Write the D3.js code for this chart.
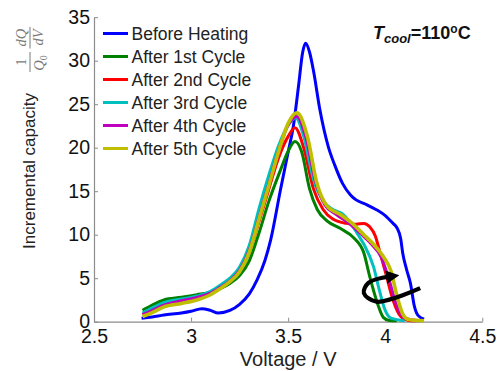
<!DOCTYPE html>
<html>
<head>
<meta charset="utf-8">
<script src="https://cdn.jsdelivr.net/npm/d3@7"></script>
<style>
 body { margin:0; background:#fff; }
 text { font-family: "Liberation Sans", Arial, sans-serif; }
</style>
</head>
<body>
<div id="chart"></div>
<script>
var beforeHeating = [[2.745,0.4],[2.8,0.55],[2.86,0.77],[2.95,1.0],[3.0,1.2],[3.055,1.5],[3.1,1.3],[3.14,1.0],[3.2,1.3],[3.25,2.0],[3.3,3.2],[3.34,4.8],[3.38,7.0],[3.41,9.4],[3.46,15.1],[3.5,19.5],[3.527,22.5],[3.553,27],[3.575,31],[3.59,32],[3.61,31],[3.63,28.9],[3.664,24.3],[3.707,20.1],[3.74,18],[3.78,15.9],[3.82,14.6],[3.85,14.0],[3.9,13.5],[3.96,12.8],[4.0,12.2],[4.04,11.3],[4.06,10.8],[4.08,9.5],[4.09,7.9],[4.11,6],[4.13,4.4],[4.15,1.8],[4.17,0.7],[4.2,0.3]];
var cycle1 = [[2.75,1.3],[2.8,1.9],[2.86,2.5],[2.95,2.8],[3.03,3.1],[3.1,3.4],[3.15,3.8],[3.2,4.4],[3.25,5.3],[3.3,7.0],[3.35,10.2],[3.4,13.8],[3.46,17.4],[3.5,19.6],[3.535,20.7],[3.57,19.5],[3.61,15.3],[3.65,12.9],[3.7,11.6],[3.77,10.7],[3.84,9.6],[3.89,7.9],[3.92,5.2],[3.96,2.1],[3.99,0.5],[4.02,0.15],[4.06,0.1]];
var cycle2 = [[2.75,0.85],[2.8,1.4],[2.86,2.0],[2.95,2.45],[3.03,2.85],[3.1,3.3],[3.15,3.95],[3.2,4.7],[3.25,5.8],[3.3,8.0],[3.35,11.5],[3.4,15.2],[3.45,18.8],[3.5,21.3],[3.535,22.3],[3.58,20],[3.63,15.3],[3.68,12.9],[3.73,11.8],[3.8,11.3],[3.85,11.2],[3.89,11.3],[3.92,10.9],[3.95,9.8],[3.97,8.2],[4.0,5.8],[4.04,2.5],[4.08,0.6],[4.12,0.15],[4.16,0.1]];
var cycle3 = [[2.75,1.0],[2.8,1.6],[2.86,2.2],[2.95,2.6],[3.03,2.95],[3.1,3.5],[3.15,4.2],[3.2,5.0],[3.25,6.3],[3.3,8.8],[3.35,13],[3.4,16.8],[3.45,20.2],[3.5,22.6],[3.54,23.4],[3.58,21.3],[3.63,16.4],[3.68,13.9],[3.73,12.9],[3.78,12.4],[3.82,11.4],[3.86,10.0],[3.89,8.9],[3.94,6.3],[3.97,3.6],[4.0,1.3],[4.03,0.4],[4.1,0.1]];
var cycle4 = [[2.75,0.8],[2.8,1.3],[2.86,1.9],[2.95,2.4],[3.03,2.8],[3.1,3.3],[3.15,3.95],[3.2,4.7],[3.25,5.9],[3.3,8.2],[3.35,12.0],[3.4,15.8],[3.45,19.6],[3.5,22.6],[3.545,23.6],[3.59,21.3],[3.64,16.2],[3.69,13.4],[3.75,12.3],[3.82,11.2],[3.88,10.0],[3.93,8.9],[3.98,7.4],[4.02,4.8],[4.06,1.8],[4.1,0.4],[4.18,0.1]];
var cycle5 = [[2.75,0.6],[2.8,1.05],[2.86,1.7],[2.95,2.1],[3.03,2.5],[3.1,3.1],[3.15,3.8],[3.2,4.6],[3.25,5.75],[3.3,8.0],[3.35,11.8],[3.4,15.6],[3.45,19.5],[3.5,22.8],[3.545,24],[3.6,21.2],[3.647,16.0],[3.7,13.3],[3.77,12.3],[3.83,11.3],[3.89,10.0],[3.94,8.9],[3.99,7.5],[4.03,5.8],[4.06,3.0],[4.09,0.9],[4.12,0.25],[4.2,0.1]];

var seriesNames = ["Before Heating","After 1st Cycle","After 2nd Cycle","After 3rd Cycle","After 4th Cycle","After 5th Cycle"];
var seriesData = [beforeHeating, cycle1, cycle2, cycle3, cycle4, cycle5];
var seriesColors = ["#0000ff","#008000","#ff0000","#00bfbf","#bf00bf","#bfbf00"];
var xTicks = [2.5,3,3.5,4,4.5];
var yTicks = [0,5,10,15,20,25,30,35];
// turning arrow, in data units
var arrowPts = [[4.18,3.85],[3.955,2.3],[3.89,3.3],[3.915,4.5],[4.025,5.2]];

var W = 502, H = 371;
var svg = d3.select("#chart").append("svg").attr("width",W).attr("height",H);

var x = d3.scaleLinear().domain([2.5,4.5]).range([94,482.3]);
var y = d3.scaleLinear().domain([0,35]).range([321.7,17.2]);

var axisCol = "#8c8c8c";

var xAxis = svg.append("g")
   .attr("transform","translate(0,"+y(0)+")")
   .call(d3.axisBottom(x).tickValues(xTicks).tickSizeInner(-4).tickSizeOuter(0).tickPadding(7)
         .tickFormat(d3.format("")));
var yAxis = svg.append("g")
   .attr("transform","translate("+x(2.5)+",0)")
   .call(d3.axisLeft(y).tickValues(yTicks).tickSizeInner(-4).tickSizeOuter(0).tickPadding(4));

[xAxis,yAxis].forEach(function (a) {
   a.select(".domain").attr("stroke",axisCol).attr("stroke-width",1.2);
   a.selectAll(".tick line").attr("stroke",axisCol);
   a.selectAll(".tick text").attr("fill","#111").style("font-size","19.5px")
    .style("font-family","'Liberation Sans', Arial, sans-serif");
});

var line = d3.line()
   .x(function (d) { return x(d[0]); })
   .y(function (d) { return y(d[1]); })
   .curve(d3.curveMonotoneX);

svg.append("g").selectAll("path")
   .data(seriesData)
   .enter()
   .append("path")
   .attr("d",line)
   .attr("fill","none")
   .attr("stroke",function (d,i) { return seriesColors[i]; })
   .attr("stroke-width",function (d,i) { return i==5 ? 3.6 : 3; })
   .attr("stroke-linejoin","round");

// arrow
var arrowLine = d3.line()
   .x(function (d) { return x(d[0]); })
   .y(function (d) { return y(d[1]); })
   .curve(d3.curveCatmullRom);
svg.append("defs").append("marker")
   .attr("id","head")
   .attr("viewBox","0 0 10 10")
   .attr("refX",3).attr("refY",5)
   .attr("markerWidth",3.2).attr("markerHeight",3.2)
   .attr("orient","auto")
   .append("path").attr("d","M0,0L10,5L0,10z").attr("fill","#000");
svg.append("path")
   .attr("d",arrowLine(arrowPts))
   .attr("fill","none")
   .attr("stroke","#000")
   .attr("stroke-width",4.2)
   .attr("marker-end","url(#head)");

// legend
var legend = svg.append("g").selectAll("g")
   .data(seriesNames)
   .enter()
   .append("g")
   .attr("transform",function (d,i) { return "translate(103,"+(33.5+i*23)+")"; });
legend.append("line")
   .attr("x1",0).attr("x2",25)
   .attr("stroke",function (d,i) { return seriesColors[i]; })
   .attr("stroke-width",3);
legend.append("text")
   .attr("x",28.5).attr("y",6)
   .style("font-size","17.5px")
   .attr("fill","#222")
   .text(function (d) { return d; });

// title
var title = svg.append("text")
   .attr("x",373).attr("y",38.5)
   .attr("fill","#111")
   .style("font-weight","bold")
   .style("font-size","18px");
title.append("tspan").style("font-style","italic").text("T");
title.append("tspan").style("font-style","italic").style("font-size","13px").attr("dy",4).text("cool");
title.append("tspan").attr("dy",-4).text("=110");
title.append("tspan").style("font-size","12px").attr("dy",-6).text("o");
title.append("tspan").attr("dy",6).text("C");

// axis labels
svg.append("text")
   .attr("x",x(3.5)).attr("y",365.5)
   .attr("text-anchor","middle")
   .style("font-size","20px")
   .attr("fill","#222")
   .text("Voltage / V");

svg.append("text")
   .attr("transform","translate(35,171) rotate(-90)")
   .attr("text-anchor","middle")
   .style("font-size","17px")
   .attr("fill","#222")
   .text("Incremental capacity");

// 1/Q0 dQ/dV written sideways
var mathCol = "#7a7a7a";
var math = svg.append("g")
   .attr("transform","translate(30,72) rotate(-90)")
   .attr("fill",mathCol)
   .style("font-size","14.5px");
math.append("line").attr("x1",0).attr("x2",20).attr("stroke",mathCol).attr("stroke-width",1);
math.append("line").attr("x1",23.5).attr("x2",45).attr("stroke",mathCol).attr("stroke-width",1);
math.append("text").attr("x",10).attr("y",-4).attr("text-anchor","middle")
   .style("font-family","'Liberation Serif', serif").text("1");
var q0 = math.append("text").attr("x",9).attr("y",14).attr("text-anchor","middle")
   .style("font-family","'Liberation Serif', serif");
q0.append("tspan").style("font-style","italic").text("Q");
q0.append("tspan").style("font-size","10px").attr("dy",3).text("0");
math.append("text").attr("x",34.5).attr("y",-4).attr("text-anchor","middle")
   .style("font-family","'Liberation Serif', serif").style("font-style","italic").text("dQ");
math.append("text").attr("x",34.5).attr("y",13).attr("text-anchor","middle")
   .style("font-family","'Liberation Serif', serif").style("font-style","italic").text("dV");
</script>
</body>
</html>
